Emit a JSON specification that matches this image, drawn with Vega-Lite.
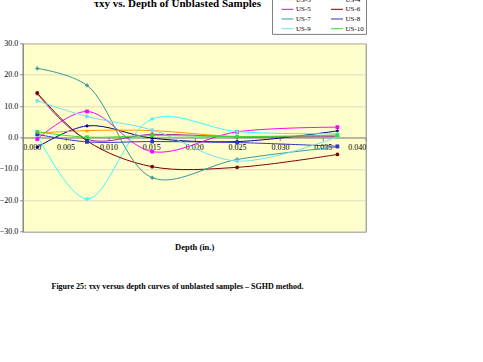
{
  "$schema": "https://vega.github.io/schema/vega-lite/v6.json",
  "autosize": {"type": "none"},
  "width": 343,
  "height": 188.4,
  "padding": {"left": 22.7, "top": 43.3, "right": 117.3, "bottom": 130.3},
  "background": "white",
  "data": {
    "values": [
      {"sample": "US-1", "depth": 0.0017, "tau": -3.1},
      {"sample": "US-1", "depth": 0.0075, "tau": 3.7},
      {"sample": "US-1", "depth": 0.0151, "tau": -0.2},
      {"sample": "US-1", "depth": 0.025, "tau": -1.3},
      {"sample": "US-1", "depth": 0.0367, "tau": 2.1},
      {"sample": "US-2", "depth": 0.0017, "tau": -0.5},
      {"sample": "US-2", "depth": 0.0075, "tau": 8.3},
      {"sample": "US-2", "depth": 0.0151, "tau": -4.5},
      {"sample": "US-2", "depth": 0.025, "tau": 1.8},
      {"sample": "US-2", "depth": 0.0367, "tau": 3.3},
      {"sample": "US-3", "depth": 0.0017, "tau": 1.4},
      {"sample": "US-3", "depth": 0.0075, "tau": 2.2},
      {"sample": "US-3", "depth": 0.0151, "tau": 2.2},
      {"sample": "US-3", "depth": 0.025, "tau": 0.3},
      {"sample": "US-3", "depth": 0.0367, "tau": 0.8},
      {"sample": "US-4", "depth": 0.0017, "tau": 0.8},
      {"sample": "US-4", "depth": 0.0075, "tau": -19.6},
      {"sample": "US-4", "depth": 0.0151, "tau": 5.9},
      {"sample": "US-4", "depth": 0.025, "tau": 1.9},
      {"sample": "US-4", "depth": 0.0367, "tau": 1.2},
      {"sample": "US-5", "depth": 0.0017, "tau": 14.0},
      {"sample": "US-5", "depth": 0.0075, "tau": -0.5},
      {"sample": "US-5", "depth": 0.0151, "tau": 1.0},
      {"sample": "US-5", "depth": 0.025, "tau": 0.2},
      {"sample": "US-5", "depth": 0.0367, "tau": 0.3},
      {"sample": "US-6", "depth": 0.0017, "tau": 14.2},
      {"sample": "US-6", "depth": 0.0075, "tau": -1.1},
      {"sample": "US-6", "depth": 0.0151, "tau": -9.3},
      {"sample": "US-6", "depth": 0.025, "tau": -9.5},
      {"sample": "US-6", "depth": 0.0367, "tau": -5.4},
      {"sample": "US-7", "depth": 0.0017, "tau": 22.0},
      {"sample": "US-7", "depth": 0.0075, "tau": 16.6},
      {"sample": "US-7", "depth": 0.0151, "tau": -12.8},
      {"sample": "US-7", "depth": 0.025, "tau": -7.0},
      {"sample": "US-7", "depth": 0.0367, "tau": -3.0},
      {"sample": "US-8", "depth": 0.0017, "tau": 1.0},
      {"sample": "US-8", "depth": 0.0075, "tau": -1.4},
      {"sample": "US-8", "depth": 0.0151, "tau": -1.3},
      {"sample": "US-8", "depth": 0.025, "tau": -1.6},
      {"sample": "US-8", "depth": 0.0367, "tau": -2.8},
      {"sample": "US-9", "depth": 0.0017, "tau": 11.7},
      {"sample": "US-9", "depth": 0.0075, "tau": 6.7},
      {"sample": "US-9", "depth": 0.0151, "tau": 2.4},
      {"sample": "US-9", "depth": 0.025, "tau": -7.5},
      {"sample": "US-9", "depth": 0.0367, "tau": 0.2},
      {"sample": "US-10", "depth": 0.0017, "tau": 1.8},
      {"sample": "US-10", "depth": 0.0075, "tau": 0.1},
      {"sample": "US-10", "depth": 0.0151, "tau": 0.6},
      {"sample": "US-10", "depth": 0.025, "tau": 0.3},
      {"sample": "US-10", "depth": 0.0367, "tau": 0.7}
    ]
  },
  "encoding": {
    "y": {
      "field": "tau", "type": "quantitative",
      "scale": {"domain": [-30, 30], "nice": false},
      "axis": {
        "values": [-30, -20, -10, 0, 10, 20, 30],
        "format": ".1f",
        "grid": true,
        "labelOverlap": false,
        "gridColor": "#DCDCC0",
        "domainColor": "#808080",
        "tickColor": "#808080",
        "tickSize": 3,
        "labelPadding": 2,
        "labelFontSize": 8,
        "labelColor": "black",
        "labelFont": "Liberation Serif",
        "title": "τxy vs. Depth of Unblasted Samples",
        "titleAngle": 0,
        "titleAlign": "center",
        "titleBaseline": "alphabetic",
        "titleX": 154.3,
        "titleY": -36.5,
        "titleFont": "Liberation Serif",
        "titleFontSize": 11,
        "titleFontWeight": "bold",
        "titleColor": "black"
      }
    }
  },
  "resolve": {"axis": {"x": "independent"}, "legend": {"color": "independent", "shape": "independent"}},
  "layer": [
    {
      "mark": {"type": "line", "interpolate": "catmull-rom", "strokeWidth": 1, "clip": true},
      "encoding": {
        "x": {
          "field": "depth", "type": "quantitative",
          "scale": {"domain": [0, 0.04], "nice": false, "zero": false},
          "axis": {
            "values": [0, 0.005, 0.01, 0.015, 0.02, 0.025, 0.03, 0.035, 0.04],
            "format": ".3f",
            "offset": -94.2,
            "grid": false,
            "labelOverlap": false,
            "domainColor": "#808080",
            "tickColor": "#808080",
            "tickSize": 3,
            "labelPadding": 3,
            "labelFontSize": 8,
            "labelColor": "black",
            "labelFont": "Liberation Serif",
            "title": "Depth (in.)",
            "titleFont": "Liberation Serif",
            "titleFontSize": 8.5,
            "titleFontWeight": "bold",
            "titleColor": "black",
            "titleBaseline": "middle",
            "titleY": 109
          }
        },
        "color": {
          "field": "sample", "type": "nominal",
          "scale": {
            "domain": ["US-1", "US-3", "US-5", "US-7", "US-9", "US-2", "US-4", "US-6", "US-8", "US-10"],
            "range": ["#000080", "#FF9900", "#993399", "#339999", "#77DDEE", "#FF00FF", "#33FFFF", "#800000", "#3333CC", "#33DD33"]
          },
          "legend": {
            "orient": "none",
            "legendX": 249.3,
            "legendY": -60.4,
            "columns": 2,
            "title": null,
            "symbolType": "M0.556,0H3.222",
            "symbolSize": 81,
            "symbolStrokeWidth": 1,
            "labelFont": "Liberation Serif",
            "labelFontSize": 7,
            "labelColor": "black",
            "labelOffset": 12,
            "rowPadding": 1.7,
            "columnPadding": 12.5,
            "padding": 2,
            "strokeColor": "#808080",
            "fillColor": "white"
          }
        },
        "detail": {"field": "sample"}
      }
    },
    {
      "mark": {"type": "point", "filled": true, "size": 14, "opacity": 1},
      "encoding": {
        "x": {
          "field": "depth", "type": "quantitative",
          "axis": {
            "orient": "bottom",
            "domain": false,
            "ticks": false,
            "labels": false,
            "grid": false,
            "title": "Figure 25:    τxy versus depth curves of unblasted samples – SGHD method.",
            "titleFont": "Liberation Serif",
            "titleFontSize": 8,
            "titleFontWeight": "bold",
            "titleColor": "black",
            "titleBaseline": "middle",
            "titleY": 54.3,
            "titleX": 154.3
          }
        },
        "color": {"field": "sample", "type": "nominal", "legend": null},
        "shape": {
          "field": "sample", "type": "nominal",
          "scale": {
            "domain": ["US-1", "US-2", "US-3", "US-4", "US-5", "US-6", "US-7", "US-8", "US-9", "US-10"],
            "range": ["diamond", "square", "triangle-up", "cross", "cross", "circle", "cross", "square", "circle", "square"]
          },
          "legend": null
        }
      }
    }
  ],
  "config": {
    "font": "Liberation Serif",
    "axis": {"labelOverlap": false},
    "view": {"fill": "#FFFFCC", "stroke": "#808080", "strokeWidth": 1}
  }
}
